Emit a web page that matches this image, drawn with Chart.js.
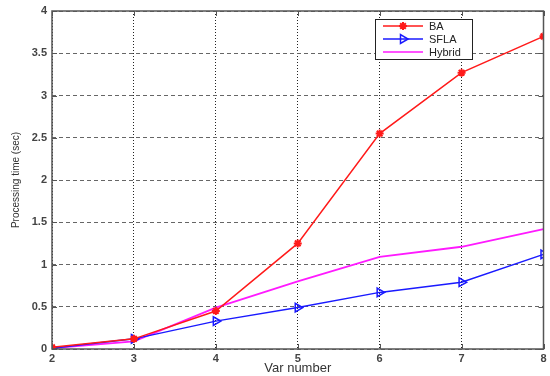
<!DOCTYPE html>
<html>
<head>
<meta charset="utf-8">
<script src="https://cdn.jsdelivr.net/npm/chart.js@4/dist/chart.umd.min.js"></script>
<style>
  html, body { margin: 0; padding: 0; background: #fff; }
  #wrap { width: 550px; height: 376px; position: relative; }
</style>
</head>
<body>
<div id="wrap"><canvas id="c" width="550" height="376"></canvas></div>
<script>
// Processing time against number of variables
const varNumbers = [2, 3, 4, 5, 6, 7, 8];
const baTimes     = [0.02, 0.12, 0.45, 1.25, 2.55, 3.27, 3.70];
const sflaTimes   = [0.01, 0.12, 0.33, 0.49, 0.67, 0.79, 1.12];
const hybridTimes = [0.01, 0.09, 0.49, 0.80, 1.09, 1.21, 1.42];
const seriesNames = ['BA', 'SFLA', 'Hybrid'];

const toPoints = (ys) => varNumbers.map((x, i) => ({ x: x, y: ys[i] }));

// Box around the axes, small inward ticks, and a framed legend in the upper right
const framePlugin = {
  id: 'frame',
  afterDraw(chart) {
    const { ctx, chartArea: a } = chart;
    const xs = chart.scales.x, ys = chart.scales.y;
    ctx.save();
    ctx.strokeStyle = '#555';
    ctx.lineWidth = 1;
    ctx.beginPath();
    ys.ticks.forEach(t => {
      const y = Math.round(ys.getPixelForValue(t.value)) + 0.5;
      ctx.moveTo(a.left, y); ctx.lineTo(a.left + 5, y);
      ctx.moveTo(a.right, y); ctx.lineTo(a.right - 5, y);
    });
    xs.ticks.forEach(t => {
      const x = Math.round(xs.getPixelForValue(t.value)) + 0.5;
      ctx.moveTo(x, a.bottom); ctx.lineTo(x, a.bottom - 5);
      ctx.moveTo(x, a.top); ctx.lineTo(x, a.top + 5);
    });
    ctx.stroke();

    ctx.strokeStyle = '#555';
    ctx.lineWidth = 1.5;
    ctx.strokeRect(a.left, a.top, a.right - a.left, a.bottom - a.top);

    // legend
    const bx = 375, by = 19, bw = 97, bh = 40;
    ctx.fillStyle = '#fff';
    ctx.fillRect(bx, by, bw, bh);
    ctx.strokeStyle = '#222';
    ctx.lineWidth = 1;
    ctx.strokeRect(bx + 0.5, by + 0.5, bw, bh);
    ctx.font = '11px "Liberation Sans", Arial, sans-serif';
    ctx.textBaseline = 'middle';
    chart.data.datasets.forEach((ds, i) => {
      const y = by + 7 + i * 13;
      ctx.strokeStyle = ds.borderColor;
      ctx.lineWidth = 1.5;
      ctx.beginPath();
      ctx.moveTo(bx + 8, y);
      ctx.lineTo(bx + 48, y);
      ctx.stroke();
      if (ds.pointStyle && ds.pointRadius > 0) {
        ctx.fillStyle = ds.pointBackgroundColor;
        ctx.strokeStyle = ds.pointBorderColor;
        ctx.lineWidth = ds.pointBorderWidth;
        Chart.helpers.drawPoint(ctx, {
          pointStyle: ds.pointStyle,
          radius: ds.pointRadius,
          rotation: ds.pointRotation || 0,
          borderWidth: ds.pointBorderWidth
        }, bx + 28, y);
      }
      ctx.fillStyle = '#222';
      ctx.fillText(ds.label, bx + 54, y + 0.5);
    });
    ctx.restore();
  }
};

const tickFont = { family: '"Liberation Sans", Arial, sans-serif', size: 11, weight: 'bold' };

new Chart(document.getElementById('c'), {
  type: 'line',
  data: {
    datasets: [
      {
        label: seriesNames[0],
        data: toPoints(baTimes),
        borderColor: '#ff1a1a',
        backgroundColor: '#ff1a1a',
        borderWidth: 1.5,
        pointStyle: 'star',
        pointRadius: 4,
        pointBorderWidth: 2,
        pointBorderColor: '#ff1a1a',
        pointBackgroundColor: '#ff1a1a'
      },
      {
        label: seriesNames[1],
        data: toPoints(sflaTimes),
        borderColor: '#1a1aff',
        backgroundColor: '#1a1aff',
        borderWidth: 1.5,
        pointStyle: 'triangle',
        pointRotation: 90,
        pointRadius: 5,
        pointBorderWidth: 1.5,
        pointBorderColor: '#1a1aff',
        pointBackgroundColor: 'rgba(0,0,0,0)'
      },
      {
        label: seriesNames[2],
        data: toPoints(hybridTimes),
        borderColor: '#ff1aff',
        backgroundColor: '#ff1aff',
        borderWidth: 1.8,
        pointRadius: 0,
        pointBorderWidth: 0
      }
    ]
  },
  options: {
    responsive: false,
    animation: false,
    events: [],
    layout: { padding: { left: 10, right: 2, top: 11, bottom: 0 } },
    plugins: {
      legend: { display: false },
      tooltip: { enabled: false }
    },
    scales: {
      x: {
        type: 'linear',
        min: 2,
        max: 8,
        afterFit(scale) { scale.height = 27; scale.paddingLeft = 0; scale.paddingRight = 0; },
        ticks: { stepSize: 1, color: '#444', font: tickFont, padding: 3, maxRotation: 0 },
        grid: { color: '#222', lineWidth: 1, drawTicks: false },
        border: { display: false, dash: [1, 2] },
        title: {
          display: true,
          text: 'Var number',
          color: '#333',
          font: { family: '"Liberation Sans", Arial, sans-serif', size: 13 },
          padding: { top: 0, bottom: 0 }
        }
      },
      y: {
        min: 0,
        max: 4,
        afterFit(scale) { scale.width = 42; scale.paddingTop = 0; scale.paddingBottom = 0; },
        ticks: {
          stepSize: 0.5,
          color: '#444',
          font: tickFont,
          padding: 5,
          callback: (v) => String(v)
        },
        grid: { color: '#666', lineWidth: 1, drawTicks: false },
        border: { display: false, dash: [4, 3] },
        title: {
          display: true,
          text: 'Processing time (sec)',
          color: '#333',
          font: { family: '"Liberation Sans Narrow", "Liberation Sans", Arial, sans-serif', size: 10 },
          padding: { top: 0, bottom: 4 }
        }
      }
    }
  },
  plugins: [framePlugin]
});
</script>
</body>
</html>
